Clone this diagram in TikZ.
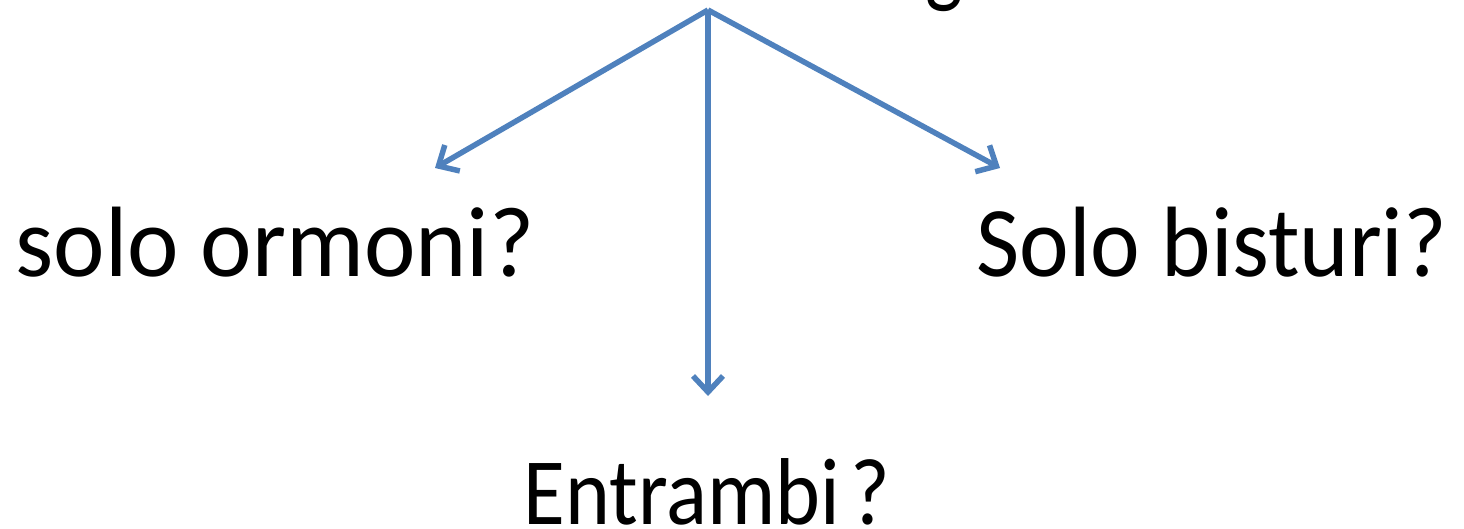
\documentclass[tikz,border=0pt]{standalone}
\usepackage{fontspec}
\setmainfont{Carlito}
\usetikzlibrary{arrows.meta}
\definecolor{arrowblue}{RGB}{79,129,189}
\tikzset{
  conn/.style={draw=arrowblue, line width=5.5pt, -{Straight Barb[length=16pt,width=30pt,line width=5.5pt]}},
  label/.style={inner sep=0pt, anchor=base, font=\fontsize{100}{120}\selectfont}
}
\begin{document}
\begin{tikzpicture}[x=1pt,y=-1pt]
\useasboundingbox (0,0) rectangle (1464,528);
\begin{scope}
\clip (0,0) rectangle (1464,528);
\node[label] (top) at (944,-6) {\scalebox{0.8}[1]{g}};
\end{scope}
\coordinate (apex) at (708,10);
\coordinate (lend) at (435,168);
\coordinate (rend) at (1000,168);
\coordinate (dend) at (708,396);
\node[label] (left) at (275,276) {\scalebox{0.975}[1]{solo ormoni?}};
\node[label] (right) at (1212,276) {\scalebox{0.94}[1]{Solo bisturi?}};
\node[label, font=\fontsize{95}{114}\selectfont] (mid) at (707,524) {\scalebox{0.9}[1]{Entrambi\hspace{0.12em}?}};
\draw[conn] (apex) -- (lend);
\draw[conn] (apex) -- (rend);
\draw[conn] (apex) -- (dend);
\end{tikzpicture}
\end{document}
